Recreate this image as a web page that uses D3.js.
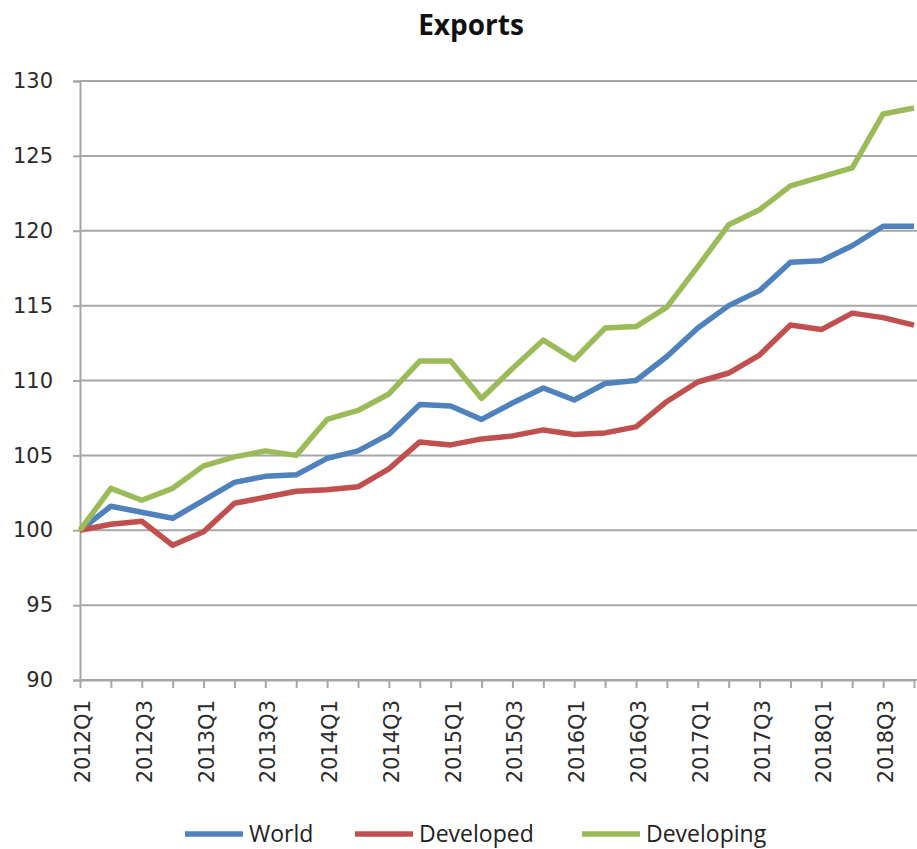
<!DOCTYPE html>
<html>
<head>
<meta charset="utf-8">
<script src="https://cdn.jsdelivr.net/npm/d3@7"></script>
<style>
  body { margin: 0; background: #fff; }
  .axis text { font-family: "DejaVu Sans", Verdana, sans-serif; font-size: 21px; fill: #2b2b2b; }
  .axis path, .axis line { stroke: #a6a6a6; stroke-width: 2px; }
</style>
</head>
<body>
<div id="chart"></div>
<script>
// quarters on the category axis
var quarters = ["2012Q1","2012Q2","2012Q3","2012Q4","2013Q1","2013Q2","2013Q3","2013Q4",
  "2014Q1","2014Q2","2014Q3","2014Q4","2015Q1","2015Q2","2015Q3","2015Q4",
  "2016Q1","2016Q2","2016Q3","2016Q4","2017Q1","2017Q2","2017Q3","2017Q4",
  "2018Q1","2018Q2","2018Q3","2018Q4"];

var world = [100, 101.6, 101.2, 100.8, 102.0, 103.2, 103.6, 103.7,
  104.8, 105.3, 106.4, 108.4, 108.3, 107.4, 108.5, 109.5,
  108.7, 109.8, 110.0, 111.6, 113.5, 115.0, 116.0, 117.9,
  118.0, 119.0, 120.3, 120.3];

var developed = [100, 100.4, 100.6, 99.0, 99.9, 101.8, 102.2, 102.6,
  102.7, 102.9, 104.1, 105.9, 105.7, 106.1, 106.3, 106.7,
  106.4, 106.5, 106.9, 108.6, 109.9, 110.5, 111.7, 113.7,
  113.4, 114.5, 114.2, 113.7];

var developing = [100, 102.8, 102.0, 102.8, 104.3, 104.9, 105.3, 105.0,
  107.4, 108.0, 109.1, 111.3, 111.3, 108.8, 110.8, 112.7,
  111.4, 113.5, 113.6, 114.9, 117.6, 120.4, 121.4, 123.0,
  123.6, 124.2, 127.8, 128.2];

var yTicks = [90, 95, 100, 105, 110, 115, 120, 125, 130];

var seriesNames = ["World", "Developed", "Developing"];
var seriesColors = ["#4f81bd", "#c0504d", "#9bbb59"];

var margin = {top: 81, right: 0, bottom: 169, left: 80},
    width = 917 - margin.left - margin.right,
    height = 849 - margin.top - margin.bottom;

var svg = d3.select("#chart").append("svg")
    .attr("width", 917)
    .attr("height", 849);

var g = svg.append("g")
    .attr("transform", "translate(" + margin.left + "," + margin.top + ")");

// points sit on the tick marks, last one just short of the right edge
var x = d3.scalePoint()
    .domain(quarters)
    .range([0, width - 3]);

var y = d3.scaleLinear()
    .domain([90, 130])
    .range([height, 0]);

// gridlines
g.append("g")
  .selectAll("line")
  .data(yTicks)
  .enter().append("line")
    .attr("x1", 0)
    .attr("x2", width)
    .attr("y1", function(d) { return y(d); })
    .attr("y2", function(d) { return y(d); })
    .style("stroke", "#a6a6a6")
    .style("stroke-width", 2);

// y axis
var yAxis = g.append("g")
    .attr("class", "axis")
    .call(d3.axisLeft(y).tickValues(yTicks).tickSize(7).tickPadding(20));

// x axis
var xAxis = g.append("g")
    .attr("class", "axis")
    .attr("transform", "translate(0," + height + ")")
    .call(d3.axisBottom(x).tickSize(8).tickSizeOuter(0)
      .tickFormat(function(d, i) { return i % 2 ? "" : d; }));

xAxis.selectAll("text")
    .attr("transform", "rotate(-90)")
    .attr("x", -20)
    .attr("y", 0)
    .attr("dy", "0.45em")
    .style("text-anchor", "end");

// lines
var allSeries = [world, developed, developing];

var line = d3.line()
    .x(function(d, i) { return x(quarters[i]); })
    .y(function(d) { return y(d); });

g.selectAll(".series")
  .data(allSeries)
  .enter().append("path")
    .attr("class", "series")
    .attr("d", line)
    .style("fill", "none")
    .style("stroke", function(d, i) { return seriesColors[i]; })
    .style("stroke-width", 5.5)
    .style("stroke-linejoin", "round");

// title
svg.append("text")
    .attr("x", 471)
    .attr("y", 35)
    .attr("text-anchor", "middle")
    .style("font-family", "'Open Sans', sans-serif")
    .style("font-weight", "bold")
    .style("font-size", "28px")
    .style("fill", "#111")
    .text("Exports");

// legend
var legendX = [185, 355, 582];
var legend = svg.selectAll(".legend")
  .data(seriesNames)
  .enter().append("g")
    .attr("class", "legend")
    .attr("transform", function(d, i) { return "translate(" + legendX[i] + ",834)"; });

legend.append("line")
    .attr("x1", 0)
    .attr("x2", 58)
    .style("stroke", function(d, i) { return seriesColors[i]; })
    .style("stroke-width", 5.5);

legend.append("text")
    .attr("x", 64)
    .attr("dy", "0.36em")
    .style("font-family", "'Open Sans', sans-serif")
    .style("font-size", "23px")
    .style("fill", "#222")
    .text(function(d) { return d; });
</script>
</body>
</html>
